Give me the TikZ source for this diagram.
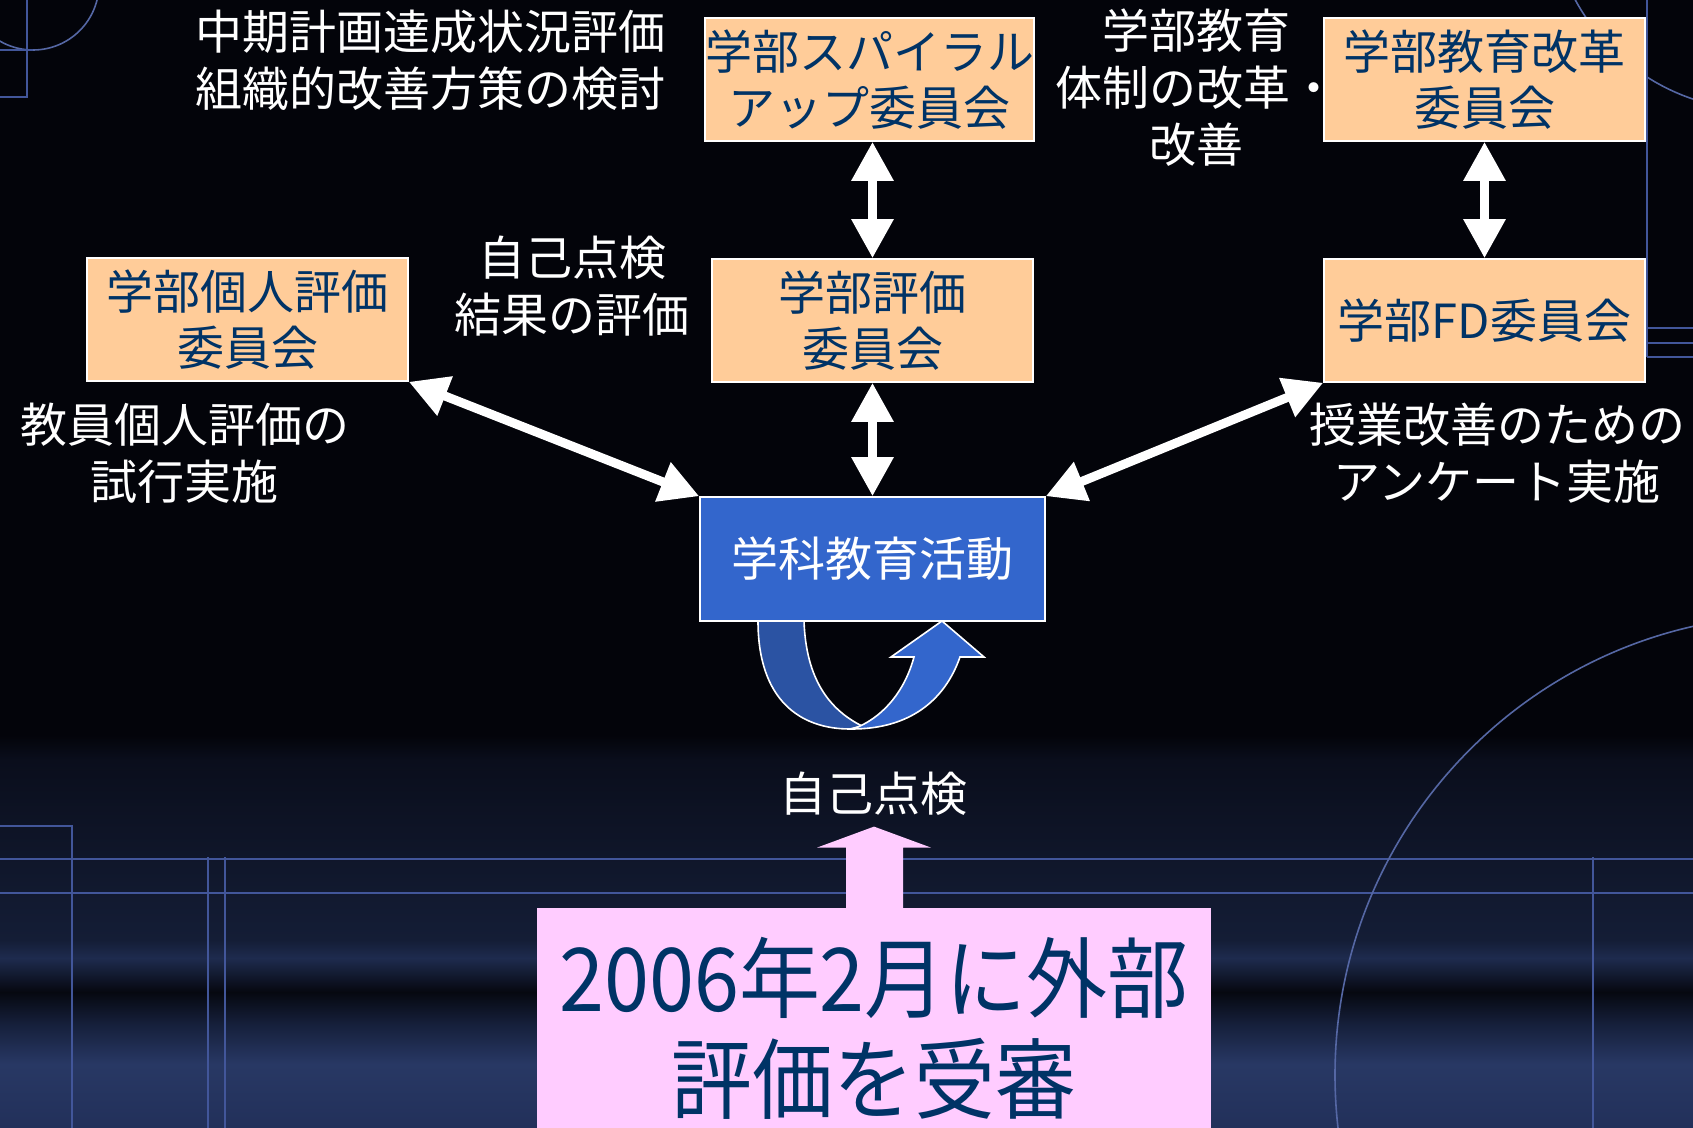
\documentclass[tikz,border=0pt]{standalone}
\usepackage{fontspec}
\newfontfamily\jp{Noto Sans CJK JP}
\newfontfamily\jpnarrow[FakeStretch=0.92]{Noto Sans CJK JP}
\usetikzlibrary{arrows.meta,calc}
\definecolor{boxfill}{HTML}{FFCC99}
\definecolor{navy}{HTML}{003366}
\definecolor{actblue}{HTML}{3366CC}
\definecolor{actdark}{HTML}{2B53A3}
\definecolor{pinkfill}{HTML}{FFCCFF}
\definecolor{bgline}{HTML}{42569A}
\definecolor{bgtop}{HTML}{03040A}
\begin{document}
\begin{tikzpicture}[x=0.5pt,y=-0.5pt,
  committee/.style={draw=white, line width=0.8pt, fill=boxfill, text=navy,
    minimum width=160.5pt, minimum height=61.5pt, inner sep=0pt, align=center,
    font=\jp\fontsize{23.5}{28}\selectfont},
  whitelabel/.style={text=white, align=center, inner sep=0pt,
    font=\jp\fontsize{23.5}{28.5}\selectfont},
  dbl/.style={draw=white, line width=4.5pt,
    {Triangle[width=20pt,length=19.5pt]}-{Triangle[width=20pt,length=19.5pt]}},
  bgl/.style={draw=bgline, line width=1pt},
  arcl/.style={draw=bgline!90!white, line width=0.8pt}]
\useasboundingbox (0,0) rectangle (1693,1128);
\begin{scope}
\clip (0,0) rectangle (1693,1128);
% background
\fill[bgtop] (0,0) rectangle (1693,750);
\shade[top color=bgtop, bottom color={rgb,255:red,10;green,14;blue,28}] (0,735) rectangle (1693,760);
\shade[top color={rgb,255:red,10;green,14;blue,28}, bottom color={rgb,255:red,20;green,29;blue,54}] (0,760) rectangle (1693,940);
\shade[top color={rgb,255:red,20;green,29;blue,54}, bottom color={rgb,255:red,30;green,43;blue,78}] (0,940) rectangle (1693,958);
\shade[top color={rgb,255:red,30;green,43;blue,78}, bottom color={rgb,255:red,6;green,8;blue,16}] (0,958) rectangle (1693,992);
\shade[top color={rgb,255:red,6;green,8;blue,16}, bottom color={rgb,255:red,22;green,32;blue,60}] (0,992) rectangle (1693,1025);
\shade[top color={rgb,255:red,22;green,32;blue,60}, bottom color={rgb,255:red,40;green,56;blue,100}] (0,1025) rectangle (1693,1064);
\shade[top color={rgb,255:red,40;green,56;blue,100}, bottom color={rgb,255:red,34;green,48;blue,90}] (0,1064) rectangle (1693,1128);
% background lines
\draw[bgl] (0,859) -- (1693,859);
\draw[bgl] (0,893) -- (1693,893);
\draw[bgl] (0,826) -- (72,826) -- (72,1128);
\draw[bgl] (208,857) -- (208,1128);
\draw[bgl] (225,857) -- (225,1128);
\draw[bgl] (1593,857) -- (1593,1128);
\draw[arcl] (1795,1075) circle[radius=460];
\draw[arcl] (33,-16) circle[radius=66];
\draw[bgl] (27,0) -- (27,97) -- (0,97);
\draw[bgl] (0,50) -- (33,50);
\draw[arcl] (1760,-100) circle[radius=210];
\draw[bgl] (1647,0) -- (1647,357);
\draw[bgl] (1647,328) -- (1693,328);
\draw[bgl] (1647,343) -- (1693,343);
\draw[bgl] (1647,357) -- (1693,357);
\end{scope}
% self-check loop arrow
\draw[fill=actdark, draw=white, line width=0.8pt] (758,621) -- (804,621) .. controls (806,680) and (830,710) .. (862,726) -- (850,729) .. controls (800,729) and (758,700) .. (758,621) -- cycle;
\draw[fill=actblue, draw=white, line width=0.8pt] (852,729) .. controls (910,729) and (945,700) .. (960,657) -- (984,657) -- (942,621) -- (891,657) -- (914,657) .. controls (905,690) and (885,715) .. (858,727) -- cycle;
% committees
\node[committee] (spiral) at (869.5,79.5) {学部スパイラル\\アップ委員会};
\node[committee] (reform) at (1484.5,79.5) {学部教育改革\\委員会};
\node[committee] (indiv) at (247.5,319.5) {学部個人評価\\委員会};
\node[committee] (evalc) at (872.5,320.5) {学部評価\\委員会};
\node[committee] (fd) at (1484.5,320.5) {学部FD委員会};
\node[draw=white, line width=0.8pt, fill=actblue, text=white, minimum width=172.5pt, minimum height=62pt, inner sep=0pt,
  font=\jp\fontsize{23.5}{28}\selectfont] (act) at (872.5,559) {学科教育活動};
% labels
\node[whitelabel] (l1) at (430,60) {中期計画達成状況評価\\組織的改善方策の検討};
\node[whitelabel] (l2) at (1196,88) {学部教育\\体制の改革・\\改善};
\node[whitelabel] (l3) at (572,286) {自己点検\\結果の評価};
\node[whitelabel] (l4) at (185,453) {教員個人評価の\\試行実施};
\node[whitelabel] (l5) at (1497,453) {授業改善のための\\アンケート実施};
\node[whitelabel] (l6) at (873,794) {自己点検};
% double arrows
\draw[dbl] (spiral.south -| evalc.north) -- (evalc.north);
\draw[dbl] (reform.south) -- (fd.north);
\draw[dbl] (evalc.south) -- (act.north);
\draw[dbl] (indiv.south east) -- (act.north west);
\draw[dbl] (fd.south west) -- (act.north east);
% external evaluation
\node[fill=pinkfill, text=navy, minimum width=337pt, minimum height=120pt, inner sep=0pt, align=center,
  font=\jpnarrow\fontsize{44}{50.5}\selectfont] (pink) at (874,1028) {2006年2月に外部\\評価を受審};
\fill[pinkfill, shift={(pink.north)}] (-28,2) -- (-28,-60) -- (-57,-60) -- (0,-81) -- (57,-60) -- (29,-60) -- (29,2) -- cycle;
\end{tikzpicture}
\end{document}
